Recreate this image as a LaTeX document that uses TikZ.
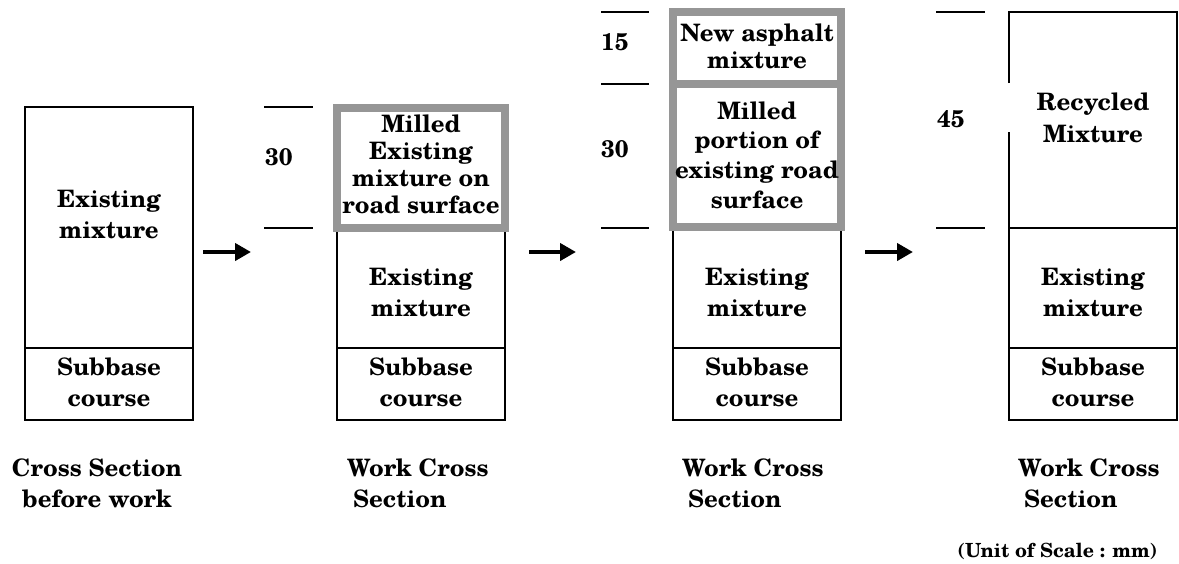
\documentclass[tikz,border=0pt]{standalone}
\usepackage{fontspec}
\setmainfont{texgyreschola}[Extension=.otf,UprightFont=*-regular,BoldFont=*-bold,ItalicFont=*-italic,BoldItalicFont=*-bolditalic]
\usetikzlibrary{arrows.meta}
\definecolor{framegray}{RGB}{150,150,150}
\begin{document}
\begin{tikzpicture}[x=1pt,y=-1pt,
  box/.style={line width=2pt,draw=black,line join=miter},
  gframe/.style={line width=7.5pt,draw=framegray,line join=miter},
  dimline/.style={line width=2pt,draw=black},
  flow/.style={line width=4pt,-{Triangle[length=16pt,width=17pt]}},
  lbl/.style={font=\bfseries\fontsize{24}{31}\selectfont,align=center,inner sep=0pt},
  tight/.style={font=\bfseries\fontsize{24}{27}\selectfont},
  mid/.style={font=\bfseries\fontsize{24}{29.7}\selectfont},
  num/.style={font=\bfseries\fontsize{24}{29}\selectfont,inner sep=0pt,anchor=base west},
  caption/.style={font=\bfseries\fontsize{24}{31}\selectfont,inner sep=0pt},
  unit/.style={font=\bfseries\fontsize{19.5}{23}\selectfont,inner sep=0pt,anchor=base}]
\useasboundingbox (0,0) rectangle (1179,563);
\fill[white] (0,0) rectangle (1179,563);

% ---------- column 1 ----------
\draw[box] (25,107) rectangle (193,420);
\draw[box] (25,348) -- (193,348);
\node[lbl] (c1top) at (109,215) {Existing\\mixture};
\node[lbl] (c1sub) at (109,382.5) {Subbase\\course};
\node[caption,align=center,anchor=north] (cap1) at (97,459) {Cross Section\\before work};

% ---------- column 2 ----------
\draw[box] (337,228) rectangle (505,420);
\draw[box] (337,348) -- (505,348);
\draw[gframe] (337,108) rectangle (505,228);
\draw[dimline] (264,107) -- (313,107);
\draw[dimline] (264,228) -- (313,228);
\node[num] (n30a) at (265,165) {30};
\node[lbl,tight] (c2mill) at (421,164) {Milled\\Existing\\mixture on\\road surface};
\node[lbl] (c2ex) at (421,292.5) {Existing\\mixture};
\node[lbl] (c2sub) at (421,382.5) {Subbase\\course};
\node[caption,align=left,anchor=north west] (cap2) at (347,459) {Work Cross\\\hspace*{6pt}Section};

% ---------- column 3 ----------
\draw[box] (673,228) rectangle (841,420);
\draw[box] (673,348) -- (841,348);
\draw[gframe] (673,12) rectangle (841,84);
\draw[gframe] (673,84) rectangle (841,227);
\draw[dimline] (601,12) -- (649,12);
\draw[dimline] (601,84) -- (649,84);
\draw[dimline] (601,228) -- (649,228);
\node[num] (n15) at (601,50) {15};
\node[num] (n30b) at (601,157) {30};
\node[lbl,tight] (c3new) at (757,46) {New asphalt\\mixture};
\node[lbl,mid] (c3mill) at (757,155) {Milled\\portion of\\existing road\\surface};
\node[lbl] (c3ex) at (757,292.5) {Existing\\mixture};
\node[lbl] (c3sub) at (757,382.5) {Subbase\\course};
\node[caption,align=left,anchor=north west] (cap3) at (682,459) {Work Cross\\\hspace*{6pt}Section};

% ---------- column 4 ----------
\draw[box] (1009,83) -- (1009,12) -- (1177,12) -- (1177,420) -- (1009,420) -- (1009,132);
\draw[box] (1009,228) -- (1177,228);
\draw[box] (1009,348) -- (1177,348);
\draw[dimline] (936,12) -- (985,12);
\draw[dimline] (936,228) -- (985,228);
\node[num] (n45) at (937,127) {45};
\node[lbl,font=\bfseries\fontsize{24}{32}\selectfont] (c4rec) at (1093,118) {Recycled\\Mixture};
\node[lbl] (c4ex) at (1093,292.5) {Existing\\mixture};
\node[lbl] (c4sub) at (1093,382.5) {Subbase\\course};
\node[caption,align=left,anchor=north west] (cap4) at (1018,459) {Work Cross\\\hspace*{6pt}Section};
\node[unit] (unitnote) at (1057.5,557) {(Unit of Scale : mm)};

% ---------- arrows ----------
\coordinate (a1s) at (203,252); \coordinate (a1e) at (251,252);
\coordinate (a2s) at (529,252); \coordinate (a2e) at (576,252);
\coordinate (a3s) at (865,252); \coordinate (a3e) at (913,252);
\draw[flow] (a1s) -- (a1e);
\draw[flow] (a2s) -- (a2e);
\draw[flow] (a3s) -- (a3e);
\end{tikzpicture}
\end{document}
